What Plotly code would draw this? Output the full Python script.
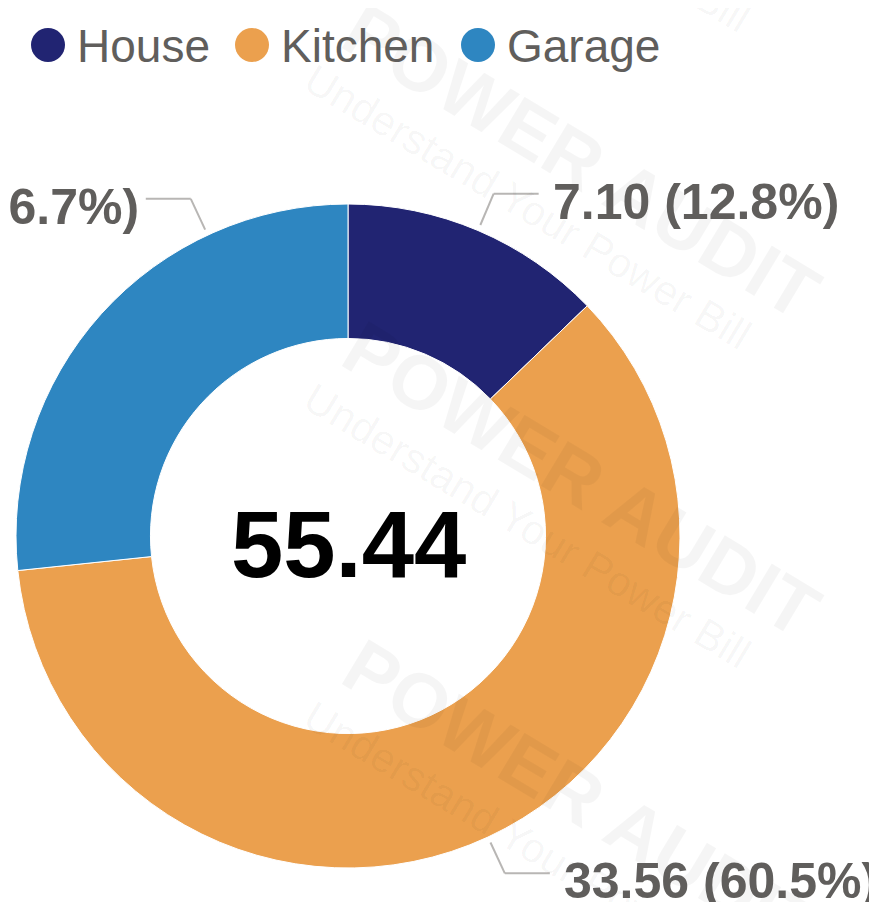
import math
import plotly.graph_objects as go

# ---- data ----
categories = ["House", "Kitchen", "Garage"]
values = [7.10, 33.56, 14.78]
colors = ["#212472", "#EBA04E", "#2E86C1"]
# label angle overrides (degrees clockwise from 12 o'clock); None = slice middle
label_angle_override = [None, None, 335]
# legend layout (pixel x of each marker centre)
legend_marker_x = [48, 252, 478]

W, H = 877, 902
OFF = 8                      # page offset of the plot div in the browser
CX, CY, R = 348, 536, 332    # pie centre / radius in pixels (screen)

def px(x):
    return (x - OFF) / W

def py(y):
    return 1 - (y - OFF) / H

total = sum(values)

fig = go.Figure()

# watermark (very faint, tiled)
WM_COL = "rgba(0,0,0,0.04)"
for yc in [-111, 207, 525, 843]:
    xc = 527
    fig.add_annotation(x=px(xc + 55), y=py(yc - 46), xref="paper", yref="paper",
                       text="<b>POWER AUDIT</b>", showarrow=False, textangle=31,
                       xanchor="center", yanchor="middle",
                       font=dict(family="Liberation Sans", size=76, color=WM_COL))
    fig.add_annotation(x=px(xc), y=py(yc), xref="paper", yref="paper",
                       text="Understand Your Power Bill", showarrow=False, textangle=31,
                       xanchor="center", yanchor="middle",
                       font=dict(family="Liberation Sans", size=42, color=WM_COL))

fig.add_trace(go.Pie(
    labels=categories, values=values, sort=False, direction="clockwise",
    rotation=0, hole=0.595, textinfo="none", showlegend=False,
    marker=dict(colors=colors, line=dict(color="white", width=1)),
    domain=dict(x=[px(CX - R), px(CX + R)], y=[py(CY + R), py(CY - R)]),
    hoverinfo="label+value+percent",
))

# custom legend with round markers
LEG_Y = 45
LEG_R = 17
for name, col, mx in zip(categories, colors, legend_marker_x):
    fig.add_shape(type="circle", xref="paper", yref="paper",
                  x0=px(mx - LEG_R), x1=px(mx + LEG_R),
                  y0=py(LEG_Y + LEG_R), y1=py(LEG_Y - LEG_R),
                  fillcolor=col, line=dict(width=0))
    fig.add_annotation(x=px(mx + 27), y=py(LEG_Y + 1), xref="paper", yref="paper",
                       text=name, showarrow=False, xanchor="left", yanchor="middle",
                       font=dict(family="Liberation Sans", size=46, color="#605E5C"))

# outside labels with leader lines
cum = 0.0
for i, v in enumerate(values):
    frac = v / total
    mid = (cum + frac / 2) * 360
    cum += frac
    ang = label_angle_override[i] if label_angle_override[i] is not None else mid
    a = math.radians(ang)
    sx, sy = CX + (R + 6) * math.sin(a), CY - (R + 6) * math.cos(a)
    ex, ey = CX + (R + 40) * math.sin(a), CY - (R + 40) * math.cos(a)
    right = math.sin(a) >= 0
    hx = ex + (45 if right else -45)
    line = dict(color="#B8B6B4", width=2)
    fig.add_shape(type="line", xref="paper", yref="paper",
                  x0=px(sx), y0=py(sy), x1=px(ex), y1=py(ey), line=line)
    fig.add_shape(type="line", xref="paper", yref="paper",
                  x0=px(ex), y0=py(ey), x1=px(hx), y1=py(ey), line=line)
    txt = f"{v:.2f} ({frac*100:.1f}%)"
    fig.add_annotation(x=px(hx + (12 if right else -5)), y=py(ey + 8),
                       xref="paper", yref="paper", text=f"<b>{txt}</b>",
                       showarrow=False, xanchor="left" if right else "right",
                       yanchor="middle",
                       font=dict(family="Liberation Sans", size=50, color="#605E5C"))

# centre total
fig.add_annotation(x=px(CX), y=py(CY + 8), xref="paper", yref="paper",
                   text=f"<b>{total:.2f}</b>", showarrow=False,
                   xanchor="center", yanchor="middle",
                   font=dict(family="Liberation Sans", size=94, color="#000000"))

fig.update_layout(
    width=W, height=H, margin=dict(l=0, r=0, t=0, b=0),
    paper_bgcolor="white", plot_bgcolor="white",
    showlegend=False,
)

fig.write_html("out.html")
